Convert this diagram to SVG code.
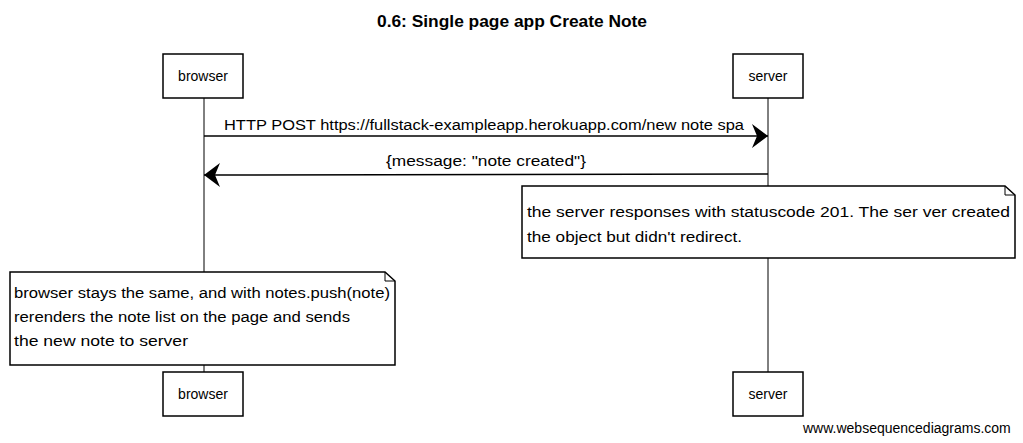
<svg xmlns="http://www.w3.org/2000/svg" width="1023" height="443" viewBox="0 0 1023 443">
<style>
.box{fill:#fff;stroke:#000;stroke-width:1.5}
.life{stroke:#000;stroke-width:1}
.msg{stroke:#000;stroke-width:1.5;fill:none}
.t{font-family:"Liberation Sans",Arial,sans-serif;font-size:14px;fill:#000}
.c{text-anchor:middle}
.title{font-family:"Liberation Sans",Arial,sans-serif;font-size:16px;font-weight:bold;fill:#000;text-anchor:middle}
.wm{font-family:"Liberation Sans",Arial,sans-serif;font-size:14px;fill:#000}
</style>
<defs>
<marker id="ah" markerWidth="18" markerHeight="24" refX="16" refY="12" orient="auto" markerUnits="userSpaceOnUse">
<path d="M0,0 L16,12 L0,24 L5,12 Z" fill="#000"/>
</marker>
</defs>
<rect width="1023" height="443" fill="#fff"/>
<text class="title" x="512" y="27" textLength="270" lengthAdjust="spacingAndGlyphs">0.6: Single page app Create Note</text>
<g id="lifelines">
<line class="life" x1="204" y1="98" x2="204" y2="372"/>
<line class="life" x1="768" y1="98" x2="768" y2="372"/>
</g>
<g id="browser-top"><rect class="box" x="163" y="54" width="80" height="44"/><text class="t c" x="203" y="81">browser</text></g>
<g id="server-top"><rect class="box" x="733" y="54" width="70" height="44"/><text class="t c" x="768" y="81">server</text></g>
<g id="connectors">
<line class="msg" x1="204" y1="136" x2="768" y2="136" marker-end="url(#ah)"/>
<text class="t c" x="484" y="130" textLength="520" lengthAdjust="spacingAndGlyphs">HTTP POST https://fullstack-exampleapp.herokuapp.com/new note spa</text>
<line class="msg" x1="768" y1="174" x2="204" y2="175" marker-end="url(#ah)"/>
<text class="t c" x="486" y="166" textLength="200" lengthAdjust="spacingAndGlyphs">{message: "note created"}</text>
</g>
<g id="note-server">
<path class="box" d="M522,186 L1005,186 L1015,195 L1015,258 L522,258 Z"/>
<path d="M1005,186 L1005,195 L1015,195" fill="none" stroke="#000" stroke-width="1"/>
<text class="t" x="527" y="217" textLength="483" lengthAdjust="spacingAndGlyphs">the server responses with statuscode 201. The ser ver created</text>
<text class="t" x="527" y="242" textLength="215" lengthAdjust="spacingAndGlyphs">the object but didn't redirect.</text>
</g>
<g id="note-browser">
<path class="box" d="M10,272 L385,272 L395,281 L395,365 L10,365 Z"/>
<path d="M385,272 L385,281 L395,281" fill="none" stroke="#000" stroke-width="1"/>
<text class="t" x="14" y="298" textLength="376" lengthAdjust="spacingAndGlyphs">browser stays the same, and with notes.push(note)</text>
<text class="t" x="14" y="322" textLength="336" lengthAdjust="spacingAndGlyphs">rerenders the note list on the page and sends</text>
<text class="t" x="14" y="346" textLength="174" lengthAdjust="spacingAndGlyphs">the new note to server</text>
</g>
<g id="browser-bottom"><rect class="box" x="163" y="372" width="80" height="44"/><text class="t c" x="203" y="399">browser</text></g>
<g id="server-bottom"><rect class="box" x="733" y="372" width="70" height="44"/><text class="t c" x="768" y="399">server</text></g>
<text class="wm" x="803" y="433">www.websequencediagrams.com</text>
</svg>
